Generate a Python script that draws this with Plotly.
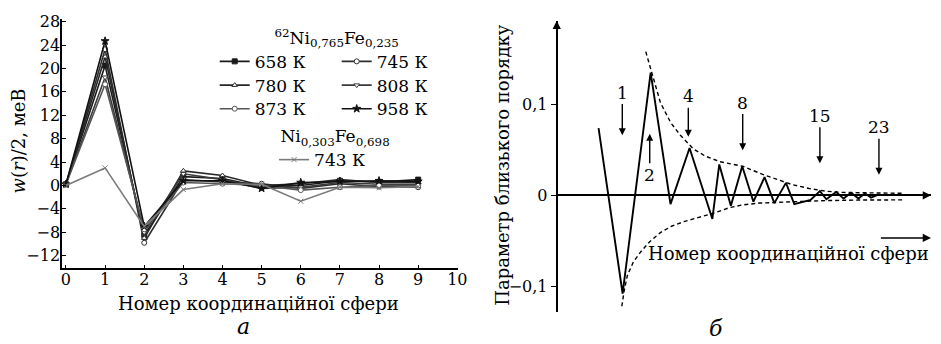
import plotly.graph_objects as go

FONT = "DejaVu Serif"

# ---------- panel (a): w(r)/2 for each coordination sphere ----------
spheres = [0, 1, 2, 3, 4, 5, 6, 7, 8, 9]
w_658 = [0.2, 20.5, -8.5, 1.5, 1.2, -0.2, 0.0, 0.8, 0.6, 1.0]
w_745 = [0.2, 23.3, -9.8, 1.0, 0.6, 0.3, -0.5, 0.3, -0.2, -0.3]
w_780 = [0.2, 22.0, -9.0, 2.5, 1.7, 0.0, 0.3, 1.0, 0.5, 0.5]
w_808 = [0.2, 18.5, -8.0, 2.0, 1.0, -0.5, -0.3, 0.5, 0.2, 0.2]
w_873 = [0.2, 17.3, -7.5, 0.5, 0.3, 0.0, -0.8, -0.3, 0.0, 0.0]
w_958 = [0.2, 24.7, -7.0, 0.8, 0.8, -0.5, 0.5, 0.7, 0.8, 0.7]
w_743 = [0.0, 3.0, -7.0, -0.7, 0.3, 0.2, -2.7, -0.3, -0.4, -0.2]

series_a = [
    ("658 К", w_658, "square", "#1a1a1a", "legend"),
    ("745 К", w_745, "circle", "#2e2e2e", "legend"),
    ("780 К", w_780, "triangle-up", "#262626", "legend2"),
    ("808 К", w_808, "triangle-down", "#3a3a3a", "legend2"),
    ("873 К", w_873, "circle", "#555555", "legend3"),
    ("958 К", w_958, "star", "#111111", "legend3"),
    ("743 К", w_743, "x-thin", "#7a7a7a", "legend4"),
]

y_ticks_a = [-12, -8, -4, 0, 4, 8, 12, 16, 20, 24, 28]
x_ticks_a = [0, 1, 2, 3, 4, 5, 6, 7, 8, 9, 10]

# ---------- panel (б): short-range order parameter ----------
r_sro = [0.90, 1.417, 2.02, 2.447, 2.857, 3.347, 3.496, 3.745, 3.99, 4.23,
         4.47, 4.68, 4.93, 5.11, 5.46, 5.66, 5.80, 6.01, 6.17, 6.33,
         6.49, 6.63, 6.76, 6.88]
sro = [0.074, -0.108, 0.135, -0.0097, 0.052, -0.026, 0.034, -0.0115, 0.032, -0.007,
       0.020, -0.0086, 0.0137, -0.0097, -0.005, 0.0047, -0.0043, 0.0037, -0.0036, 0.0029,
       -0.0036, 0.0022, -0.0025, 0.0]

env_up_r = [1.915, 2.05, 2.23, 2.45, 2.66, 2.94, 3.2, 3.51, 4.0, 4.43, 4.71, 5.05,
            5.43, 5.8, 6.13, 6.6, 7.0, 7.45]
env_up = [0.158, 0.133, 0.102, 0.080, 0.066, 0.051, 0.043, 0.037, 0.032, 0.023, 0.018, 0.012,
          0.0075, 0.0045, 0.0032, 0.0026, 0.0023, 0.0022]

env_low_r = [1.40, 1.45, 1.52, 1.65, 1.81, 2.0, 2.23, 2.47, 2.73, 3.0, 3.35, 3.72,
             4.0, 4.36, 5.07, 5.78, 6.49, 7.45]
env_low = [-0.122, -0.105, -0.088, -0.073, -0.062, -0.051, -0.041, -0.034, -0.029, -0.025,
           -0.020, -0.0135, -0.0105, -0.0085, -0.0068, -0.0058, -0.0052, -0.005]

shell_labels = ["1", "2", "4", "8", "15", "23"]
shell_r = [1.41, 2.0, 2.83, 4.0, 5.66, 6.93]
shell_label_y = [0.113, 0.0227, 0.109, 0.102, 0.0876, 0.075]
shell_head_y = [0.066, 0.0678, 0.0645, 0.0497, 0.0354, 0.0227]

y_ticks_b = [-0.1, 0.0, 0.1]
y_ticktext_b = ["−0,1", "0", "0,1"]

fig = go.Figure()

for name, vals, sym, col, leg in series_a:
    fig.add_trace(go.Scatter(
        x=spheres, y=vals, name=name, mode="lines+markers",
        line=dict(color=col, width=1.6),
        marker=dict(symbol=sym, size=5 if sym != "star" else 6,
                    color="white" if sym not in ("star", "square") else col,
                    line=dict(color=col, width=1)),
        legend=leg, xaxis="x", yaxis="y",
    ))

# zigzag of the order parameter
fig.add_trace(go.Scatter(
    x=r_sro, y=sro, mode="lines", line=dict(color="black", width=1.9),
    showlegend=False, xaxis="x2", yaxis="y2",
))
# dashed envelopes
for rr, yy in ((env_up_r, env_up), (env_low_r, env_low)):
    fig.add_trace(go.Scatter(
        x=rr, y=yy, mode="lines", line=dict(color="black", width=1.4, dash="4px,3px"),
        showlegend=False, xaxis="x2", yaxis="y2",
    ))

ann = []
# shell arrows with numbers
for lab, r, ly, hy in zip(shell_labels, shell_r, shell_label_y, shell_head_y):
    ann.append(dict(
        x=r, y=hy, ax=r, ay=ly, xref="x2", yref="y2", axref="x2", ayref="y2",
        text=lab, showarrow=True, arrowhead=2, arrowsize=1, arrowwidth=1.4,
        arrowcolor="black", font=dict(family=FONT, size=17, color="black"),
    ))

# axis arrowheads of panel (б)
ann.append(dict(x=0, y=0.192, ax=0, ay=0.17, xref="x2", yref="y2", axref="x2", ayref="y2",
                text="", showarrow=True, arrowhead=2, arrowsize=1.1, arrowwidth=1.5,
                arrowcolor="black"))
ann.append(dict(x=8.05, y=0, ax=7.8, ay=0, xref="x2", yref="y2", axref="x2", ayref="y2",
                text="", showarrow=True, arrowhead=2, arrowsize=1.1, arrowwidth=1.5,
                arrowcolor="black"))
ann.append(dict(x=8.05, y=-0.0468, ax=6.94, ay=-0.0468, xref="x2", yref="y2",
                axref="x2", ayref="y2", text="", showarrow=True, arrowhead=2,
                arrowsize=1.1, arrowwidth=1.5, arrowcolor="black"))

W, H = 941, 344


def px(x):
    return x / W


def py(y):
    return 1 - y / H


txt = dict(family=FONT, size=18, color="black")


def label(x, y, text, font=txt, angle=0, xanchor="center"):
    return dict(x=px(x), y=py(y), xref="paper", yref="paper", text=text,
                showarrow=False, font=font, textangle=angle,
                xanchor=xanchor, yanchor="middle")


ann += [
    label(260, 303, "Номер координаційної сфери"),
    label(18, 137, "<i>w</i>(<i>r</i>)/2, меВ", angle=-90),
    label(940, 252, "Номер координаційної сфери", xanchor="right"),
    label(507, 162, "Параметр близького порядку", angle=-90),
    label(245, 326, "<i>а</i>", font=dict(family=FONT, size=22, color="black")),
    label(723, 328, "<i>б</i>", font=dict(family=FONT, size=22, color="black")),
]

leg_common = dict(orientation="h", entrywidth=77, entrywidthmode="pixels", itemwidth=30,
                  bgcolor="rgba(0,0,0,0)", font=dict(family=FONT, size=17, color="black"),
                  xanchor="left", traceorder="normal")
tick_font = dict(family=FONT, size=16, color="black")
leg_title_font = dict(family=FONT, size=17, color="black")

fig.update_layout(
    width=W, height=H, margin=dict(l=0, r=0, t=0, b=0),
    paper_bgcolor="white", plot_bgcolor="white",
    font=dict(family=FONT, size=16, color="black"),
    xaxis=dict(domain=[px(61.7), px(462)], range=[-0.1, 10.02], tickvals=x_ticks_a,
               showline=True, linecolor="black", linewidth=1.5, ticks="inside", ticklen=4,
               tickcolor="black", showgrid=False, zeroline=False, anchor="y",
               tickfont=tick_font, ticklabelstandoff=-4),
    yaxis=dict(domain=[py(267), py(13)], range=[-14.17, 28.5], tickvals=y_ticks_a,
               showline=True, linecolor="black", linewidth=1.5, ticks="inside", ticklen=4,
               tickcolor="black", showgrid=False, zeroline=False, anchor="x",
               tickfont=tick_font, ticklabelstandoff=-3),
    xaxis2=dict(domain=[px(561.7), px(940)], range=[0, 8.05], showline=False,
                showticklabels=False, ticks="", showgrid=False, zeroline=True,
                zerolinecolor="black", zerolinewidth=1.6, anchor="y2"),
    yaxis2=dict(domain=[py(311.7), py(15)], range=[-0.1286, 0.192], tickvals=y_ticks_b,
                ticktext=y_ticktext_b, showline=False, ticks="outside", ticklen=5,
                tickcolor="black", showgrid=False, zeroline=True, zerolinecolor="black",
                zerolinewidth=1.6, anchor="x2", tickfont=tick_font),
    legend=dict(x=px(216), y=py(16), yanchor="top",
                title=dict(text="<sup>62</sup>Ni<sub>0,765</sub>Fe<sub>0,235</sub>",
                           side="top center", font=leg_title_font),
                **leg_common),
    legend2=dict(x=px(216), y=py(81), yanchor="middle", **leg_common),
    legend3=dict(x=px(216), y=py(105), yanchor="middle", **leg_common),
    legend4=dict(x=px(276), y=py(116), yanchor="top",
                 title=dict(text="Ni<sub>0,303</sub>Fe<sub>0,698</sub>",
                            side="top center", font=leg_title_font),
                 **leg_common),
    annotations=ann,
    showlegend=True,
)

fig.write_html("out.html")
